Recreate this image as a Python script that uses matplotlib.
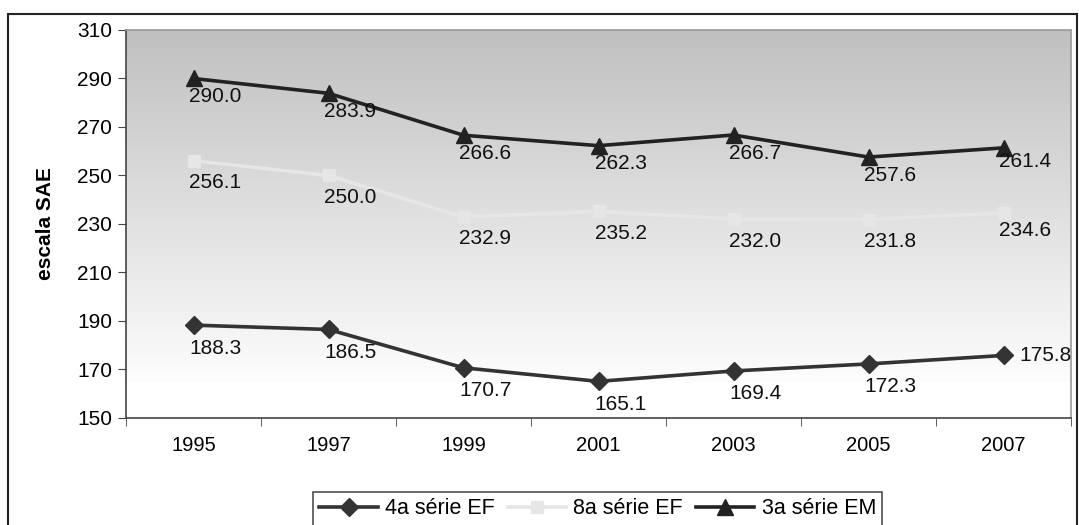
import numpy as np
import matplotlib
matplotlib.use('Agg')
import matplotlib.pyplot as plt
from matplotlib.patches import Rectangle
from matplotlib.colors import LinearSegmentedColormap

plt.rcParams['font.family'] = ['Liberation Sans', 'DejaVu Sans']

# data
years = ['1995', '1997', '1999', '2001', '2003', '2005', '2007']
ef4 = [188.3, 186.5, 170.7, 165.1, 169.4, 172.3, 175.8]
ef8 = [256.1, 250.0, 232.9, 235.2, 232.0, 231.8, 234.6]
em3 = [290.0, 283.9, 266.6, 262.3, 266.7, 257.6, 261.4]
series_names = ['4a série EF', '8a série EF', '3a série EM']

fig = plt.figure(figsize=(10.79, 5.25), dpi=100)
ax = fig.add_axes([126/1079, 1-418/525, (1071-126)/1079, (418-30)/525])

# outer chart border (bottom runs off the picture)
fig.patches.append(Rectangle((8/1079, -0.1), (1077-8)/1079, 1.1 - 14/525,
                             transform=fig.transFigure, fill=False,
                             edgecolor='#222222', linewidth=1.5))

x = np.arange(len(years))
ax.set_xlim(-0.5, len(years)-0.5)
ax.set_ylim(150, 310)

# gradient background of plot area: grey at top, white near the bottom
cmap = LinearSegmentedColormap.from_list('g', ['#fdfdfd', '#c0c0c0'])
grad = np.linspace(0, 1, 256).reshape(-1, 1)
ax.imshow(grad, cmap=cmap, aspect='auto', origin='lower',
          extent=[-0.5, len(years)-0.5, 165, 310], zorder=0)

ax.plot(x, ef4, color='#333333', lw=2.6, marker='D', ms=9, label=series_names[0], zorder=3)
ax.plot(x, ef8, color='#e6e6e6', lw=2.6, marker='s', ms=9, label=series_names[1], zorder=3)
ax.plot(x, em3, color='#222222', lw=2.6, marker='^', ms=11, label=series_names[2], zorder=3)

# data labels
for vals, dy in [(ef4, -23), (ef8, -22), (em3, -18)]:
    for i, v in enumerate(vals):
        if i == len(vals) - 1:
            if vals is ef4:
                off, ha, va = (16, 0), 'left', 'center'
            else:
                off, ha, va = (-4, dy + 4), 'left', 'center'
        else:
            off, ha, va = (22, dy), 'center', 'center'
        ax.annotate('%.1f' % v, (x[i], v), xytext=off, textcoords='offset pixels',
                    ha=ha, va=va, fontsize=15, color='#111111', zorder=4,
                    annotation_clip=False)

ax.set_xticks(x)
ax.set_xticklabels(years, fontsize=14.5)
ax.set_xticks(np.arange(len(years)+1) - 0.5, minor=True)
ax.tick_params(axis='x', which='major', length=0, pad=13)
ax.tick_params(axis='x', which='minor', length=6, direction='out', color='#444444')
ax.set_yticks(np.arange(150, 311, 20))
ax.tick_params(axis='y', labelsize=15, length=6, color='#444444', pad=4)
ax.set_ylabel('escala SAE', fontsize=15, fontweight='bold', labelpad=16)

for s in ['left', 'bottom']:
    ax.spines[s].set_color('#444444')
    ax.spines[s].set_linewidth(1.2)
for s in ['top', 'right']:
    ax.spines[s].set_color('#999999')
    ax.spines[s].set_linewidth(1.2)

leg = fig.legend(loc='upper left', bbox_to_anchor=(313/1079, 1-492/525), ncol=3,
                 fontsize=15.5, frameon=True, fancybox=False, handlelength=2.7,
                 columnspacing=0.6, handletextpad=0.35, borderpad=0.3,
                 borderaxespad=0)
leg.get_frame().set_edgecolor('#222222')
leg.get_frame().set_linewidth(1.2)

fig.savefig('out.png', dpi=100)
